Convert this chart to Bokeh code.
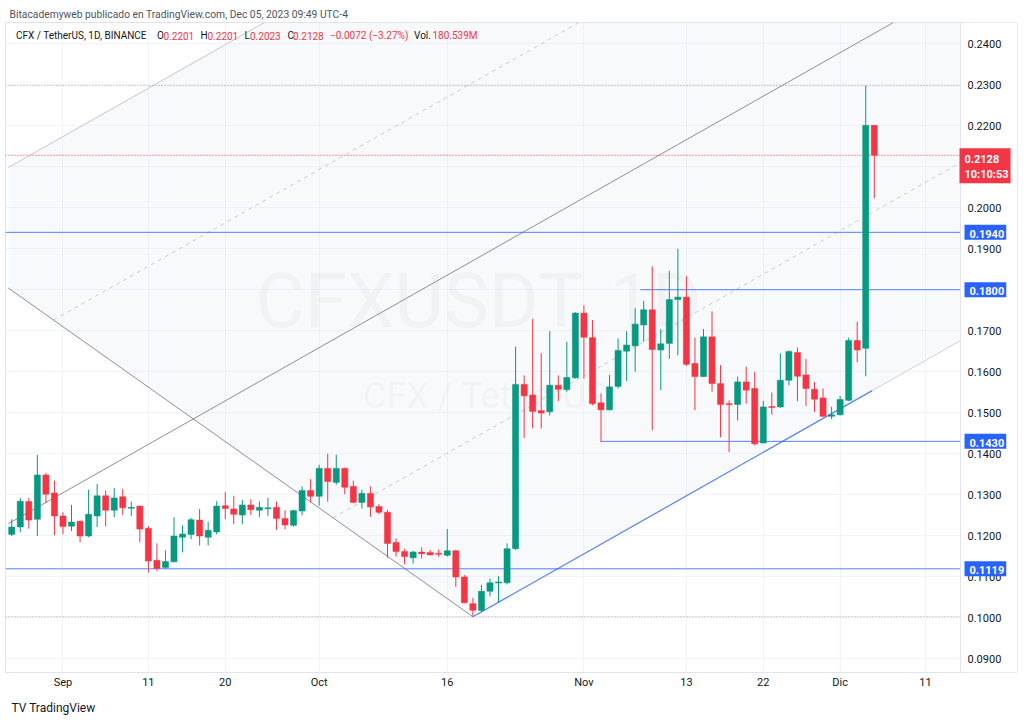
import pandas as pd
from bokeh.plotting import figure
from bokeh.models import FixedTicker, NumeralTickFormatter, Label, Span, Range1d, ColumnDataSource, Title, BoxAnnotation
from bokeh.embed import file_html
from bokeh.resources import INLINE

# ---------------- data ----------------
ref_day = pd.Timestamp("2023-09-01")
dates = pd.date_range("2023-08-26", periods=102, freq="D")

open_ = [0.1203, 0.1221, 0.1283, 0.1240, 0.1348, 0.1304, 0.1248, 0.1223, 0.1235, 0.1199,
         0.1248, 0.1297, 0.1262, 0.1295, 0.1267, 0.1272, 0.1218, 0.1140, 0.1122, 0.1136,
         0.1196, 0.1203, 0.1238, 0.1196, 0.1209, 0.1273, 0.1265, 0.1250, 0.1275, 0.1262,
         0.1267, 0.1269, 0.1242, 0.1225, 0.1260, 0.1310, 0.1296, 0.1364, 0.1330, 0.1364,
         0.1320, 0.1281, 0.1303, 0.1271, 0.1257, 0.1183, 0.1161, 0.1146, 0.1160, 0.1159,
         0.1157, 0.1152, 0.1163, 0.1099, 0.1034, 0.1017, 0.1064, 0.1085, 0.1085, 0.1168,
         0.1569, 0.1543, 0.1505, 0.1502, 0.1567, 0.1556, 0.1585, 0.1743, 0.1683, 0.1524,
         0.1507, 0.1564, 0.1650, 0.1663, 0.1714, 0.1751, 0.1653, 0.1669, 0.1776, 0.1782,
         0.1620, 0.1588, 0.1685, 0.1571, 0.1522, 0.1520, 0.1575, 0.1559, 0.1426, 0.1515,
         0.1514, 0.1579, 0.1647, 0.1592, 0.1557, 0.1536, 0.1491, 0.1495, 0.1530, 0.1676,
         0.1657, 0.2201]
high = [0.1240, 0.1292, 0.1292, 0.1397, 0.1353, 0.1334, 0.1257, 0.1275, 0.1237, 0.1312,
        0.1326, 0.1310, 0.1316, 0.1314, 0.1283, 0.1273, 0.1223, 0.1181, 0.1164, 0.1245,
        0.1225, 0.1243, 0.1265, 0.1234, 0.1284, 0.1306, 0.1297, 0.1287, 0.1289, 0.1284,
        0.1292, 0.1283, 0.1262, 0.1263, 0.1320, 0.1338, 0.1373, 0.1400, 0.1397, 0.1366,
        0.1334, 0.1312, 0.1320, 0.1277, 0.1263, 0.1193, 0.1168, 0.1163, 0.1171, 0.1165,
        0.1166, 0.1216, 0.1165, 0.1104, 0.1048, 0.1080, 0.1095, 0.1101, 0.1181, 0.1661,
        0.1591, 0.1729, 0.1645, 0.1699, 0.1591, 0.1673, 0.1745, 0.1762, 0.1726, 0.1547,
        0.1592, 0.1681, 0.1699, 0.1755, 0.1773, 0.1857, 0.1704, 0.1846, 0.1900, 0.1833,
        0.1683, 0.1704, 0.1747, 0.1616, 0.1530, 0.1588, 0.1612, 0.1600, 0.1529, 0.1549,
        0.1645, 0.1652, 0.1659, 0.1631, 0.1575, 0.1559, 0.1514, 0.1541, 0.1683, 0.1722,
        0.2298, 0.2201]
low = [0.1199, 0.1208, 0.1217, 0.1199, 0.1279, 0.1201, 0.1203, 0.1211, 0.1184, 0.1196,
       0.1221, 0.1223, 0.1245, 0.1250, 0.1248, 0.1184, 0.1110, 0.1113, 0.1119, 0.1135,
       0.1159, 0.1191, 0.1176, 0.1176, 0.1203, 0.1240, 0.1228, 0.1228, 0.1250, 0.1245,
       0.1248, 0.1214, 0.1216, 0.1222, 0.1250, 0.1281, 0.1273, 0.1283, 0.1324, 0.1301,
       0.1279, 0.1266, 0.1246, 0.1252, 0.1146, 0.1149, 0.1130, 0.1132, 0.1144, 0.1152,
       0.1148, 0.1149, 0.1075, 0.1035, 0.1002, 0.1013, 0.1052, 0.1036, 0.1081, 0.1165,
       0.1438, 0.1462, 0.1461, 0.1493, 0.1528, 0.1551, 0.1583, 0.1583, 0.1518, 0.1428,
       0.1505, 0.1559, 0.1577, 0.1600, 0.1673, 0.1457, 0.1555, 0.1631, 0.1640, 0.1614,
       0.1506, 0.1587, 0.1551, 0.1440, 0.1404, 0.1481, 0.1522, 0.1420, 0.1426, 0.1495,
       0.1512, 0.1567, 0.1528, 0.1516, 0.1502, 0.1490, 0.1484, 0.1493, 0.1528, 0.1623,
       0.1589, 0.2023]
close = [0.1221, 0.1284, 0.1238, 0.1348, 0.1301, 0.1248, 0.1222, 0.1233, 0.1199, 0.1252,
         0.1297, 0.1262, 0.1292, 0.1268, 0.1269, 0.1216, 0.1138, 0.1120, 0.1137, 0.1199,
         0.1204, 0.1239, 0.1199, 0.1213, 0.1272, 0.1266, 0.1252, 0.1275, 0.1263, 0.1269,
         0.1268, 0.1242, 0.1226, 0.1261, 0.1310, 0.1296, 0.1364, 0.1332, 0.1364, 0.1318,
         0.1281, 0.1303, 0.1270, 0.1257, 0.1181, 0.1161, 0.1149, 0.1160, 0.1156, 0.1153,
         0.1156, 0.1163, 0.1099, 0.1036, 0.1018, 0.1064, 0.1085, 0.1087, 0.1168, 0.1569,
         0.1541, 0.1503, 0.1499, 0.1567, 0.1557, 0.1586, 0.1743, 0.1684, 0.1522, 0.1507,
         0.1563, 0.1652, 0.1665, 0.1716, 0.1751, 0.1654, 0.1668, 0.1776, 0.1782, 0.1618,
         0.1588, 0.1685, 0.1571, 0.1520, 0.1520, 0.1575, 0.1555, 0.1424, 0.1514, 0.1513,
         0.1579, 0.1649, 0.1589, 0.1559, 0.1533, 0.1491, 0.1495, 0.1532, 0.1676, 0.1653,
         0.2201, 0.2128]

tick_dates = ["2023-09-01", "2023-09-11", "2023-09-20", "2023-10-01", "2023-10-16",
              "2023-11-01", "2023-11-13", "2023-11-22", "2023-12-01", "2023-12-11"]
tick_labels = ["Sep", "11", "20", "Oct", "16", "Nov", "13", "22", "Dic", "11"]
price_ticks = [0.09, 0.10, 0.11, 0.12, 0.13, 0.14, 0.15, 0.16, 0.17, 0.18, 0.19, 0.20, 0.21, 0.22, 0.23, 0.24]

# horizontal levels drawn on the chart
level_full = [0.1940, 0.1119]
level_partial = [0.1800, 0.1430]
level_partial_start = [67.6, 63.0]          # day offsets from Sep 1
last_price = 0.2128
countdown = "10:10:53"
high_mark, low_mark = 0.2298, 0.1002

# trend drawings (day offset, price)
desc_line = [(-6.4, 0.1804), (48.0, 0.1002)]
chan_anchor = (48.0, 0.1002)
chan_slope = 0.00118
chan_width = 0.0869
blue_trend_end = 94.76

# ---------------- figure ----------------
X0, X1 = -6.73, 111.77      # frame spans the chart pane plus the price-scale pane
X_SEP = 105.09              # border between chart pane and price scale
Y0, Y1 = 0.0866, 0.2452
p = figure(width=1024, height=724, output_backend="svg", toolbar_location=None,
           x_range=Range1d(X0, X1), y_range=Range1d(Y0, Y1), y_axis_location="right",
           min_border_left=5, min_border_right=7, min_border_top=22, min_border_bottom=52)
p.background_fill_color = "white"
p.border_fill_color = "white"
p.outline_line_color = "#e0e3eb"

FONT = "Roboto"
TXT = "#131722"

tick_days = [(pd.Timestamp(t) - ref_day).days for t in tick_dates]
p.xaxis.ticker = FixedTicker(ticks=tick_days)
p.xaxis.major_label_overrides = {d: l for d, l in zip(tick_days, tick_labels)}
p.yaxis.ticker = FixedTicker(ticks=price_ticks)
p.yaxis.formatter = NumeralTickFormatter(format="0.0000")
for ax in (p.xaxis[0], p.yaxis[0]):
    ax.axis_line_color = None
    ax.major_tick_line_color = None
    ax.minor_tick_line_color = None
    ax.major_tick_out = 0
    ax.minor_tick_out = 0
    ax.major_label_text_font = FONT
    ax.major_label_text_font_size = "11px"
    ax.major_label_text_color = TXT
p.yaxis.major_label_standoff = -50
p.xaxis.major_label_standoff = 3
p.xgrid.ticker = FixedTicker(ticks=tick_days)
p.ygrid.ticker = FixedTicker(ticks=price_ticks)
p.xgrid.grid_line_color = "#f0f3fa"
p.ygrid.grid_line_color = "#f0f3fa"
# price-scale pane background (hides grid there)
p.add_layout(BoxAnnotation(left=X_SEP, fill_color="white", fill_alpha=1.0, line_color=None, level="underlay"))
p.add_layout(Span(location=X_SEP, dimension="height", line_color="#e0e3eb", line_width=1))

# header and footer
p.add_layout(Title(text="Bitacademyweb publicado en TradingView.com, Dec 05, 2023 09:49 UTC-4",
                   align="left", offset=4, standoff=4, text_font=FONT, text_font_size="10.3px",
                   text_font_style="normal", text_color="#50535e"), "above")
p.add_layout(Title(text="TV  TradingView", align="left", offset=6, standoff=14, text_font=FONT,
                   text_font_size="12px", text_font_style="normal", text_color=TXT), "below")

# watermark
p.add_layout(Label(x=473, y=372, x_units="screen", y_units="screen", text="CFXUSDT, 1D",
                   text_align="center", text_baseline="middle", text_font=FONT,
                   text_font_size="76px", text_color="#787b86", text_alpha=0.08, level="underlay"))
p.add_layout(Label(x=480, y=277, x_units="screen", y_units="screen", text="CFX / TetherUS",
                   text_align="center", text_baseline="middle", text_font=FONT,
                   text_font_size="36px", text_color="#787b86", text_alpha=0.08, level="underlay"))

# channel geometry
def lower(d):
    return chan_anchor[1] + chan_slope * (d - chan_anchor[0])

def desc(d):
    (a0, b0), (a1, b1) = desc_line
    return b0 + (b1 - b0) / (a1 - a0) * (d - a0)

def meet(off):
    (a0, b0), (a1, b1) = desc_line
    k = (b1 - b0) / (a1 - a0)
    return (chan_anchor[1] + off - chan_slope * chan_anchor[0] - b0 + k * a0) / (k - chan_slope)

left = desc_line[0][0]
right = X_SEP
p.patch([left, right, right, chan_anchor[0], left],
        [lower(left) + 2 * chan_width, lower(right) + 2 * chan_width, lower(right), chan_anchor[1], desc(left)],
        fill_color="#e8ebf0", fill_alpha=0.3, line_color=None)

p.line([left, right], [lower(left) + 2 * chan_width, lower(right) + 2 * chan_width], line_color="#c4c6cc", line_width=1)
for off in (1.5 * chan_width, 0.5 * chan_width):
    s = meet(off)
    p.line([s, right], [lower(s) + off, lower(right) + off], line_color="#c9ccd3", line_width=1, line_dash="4 4")
p.line([chan_anchor[0], right], [lower(chan_anchor[0]), lower(right)], line_color="#d0d2d8", line_width=1)
p.line([left, right], [lower(left) + chan_width, lower(right) + chan_width], line_color="#8c8f96", line_width=1)
p.line([desc_line[0][0], desc_line[1][0]], [desc_line[0][1], desc_line[1][1]], line_color="#8c8f96", line_width=1)
p.line([chan_anchor[0], blue_trend_end], [lower(chan_anchor[0]), lower(blue_trend_end)], line_color="#5b86f5", line_width=1.2)

# horizontal lines (end at the price scale)
p.segment(x0=[X0, X0], x1=[X_SEP, X_SEP], y0=[high_mark, low_mark], y1=[high_mark, low_mark],
          line_color="#9598a1", line_width=1, line_dash="1 2")
p.segment(x0=[X0], x1=[X_SEP], y0=[last_price], y1=[last_price], line_color="#f23645", line_width=1, line_dash="1 2")
p.segment(x0=[X0] * len(level_full), x1=[X_SEP] * len(level_full), y0=level_full, y1=level_full,
          line_color="#2962ff", line_width=1, line_alpha=0.8)
p.segment(x0=level_partial_start, x1=[X_SEP] * len(level_partial), y0=level_partial, y1=level_partial,
          line_color="#2962ff", line_width=1, line_alpha=0.8)

# candles
x = [(d - ref_day).days for d in dates]
col = ["#089981" if c >= o else "#f23645" for o, c in zip(open_, close)]
top = [max(o, c) for o, c in zip(open_, close)]
bot = [min(o, c) for o, c in zip(open_, close)]
bot = [b if t - b > 0.00025 else t - 0.00025 for t, b in zip(top, bot)]
src = ColumnDataSource(dict(x=x, h=high, l=low, t=top, b=bot, c=col))
p.segment(x0="x", x1="x", y0="l", y1="h", line_color="c", line_width=1, source=src)
p.vbar(x="x", top="t", bottom="b", width=0.72, fill_color="c", line_color="c", line_width=0.5, source=src)

# price tags on the price scale (frame-relative screen x: 955 = pane border)
def tag(price, text, color, xs=959, yoff=0, baseline="middle"):
    p.add_layout(Label(x=xs, y=price, x_units="screen", y_units="data", y_offset=yoff, text=text,
                       text_align="left", text_baseline=baseline, text_font=FONT, text_font_size="11px",
                       text_font_style="bold", text_color="white", background_fill_color=color,
                       padding=(5, 2, 5, 2), text_line_height=1.15))
for lv in level_full + level_partial:
    tag(lv, f"{lv:.4f}", "#2962ff")
tag(last_price, f"{last_price:.4f}\n{countdown}", "#f23645", xs=954, yoff=7, baseline="top")

# legend line (frame-relative screen coords; frame bottom-left at canvas (5, 672))
FH = 650
def txt(xc, yc, text, color, size="10px"):
    p.add_layout(Label(x=xc - 5, y=FH - (yc - 22), x_units="screen", y_units="screen", text=text,
                       text_align="left", text_baseline="middle", text_font=FONT, text_font_size=size,
                       text_color=color))

RED = "#f23645"
legend = [(15.5, "CFX / TetherUS, 1D, BINANCE", TXT), (156.5, "O", TXT), (163, "0.2201", RED),
          (200, "H", TXT), (207, "0.2201", RED), (244, "L", TXT), (249.5, "0.2023", RED),
          (287, "C", TXT), (292.5, "0.2128", RED), (329.5, "\u22120.0072 (\u22123.27%)", RED),
          (413.5, "Vol.", TXT), (432, "180.539M", RED)]
for xc, t, c in legend:
    txt(xc, 35, t, c)

open("out.html", "w").write(file_html(p, INLINE))
